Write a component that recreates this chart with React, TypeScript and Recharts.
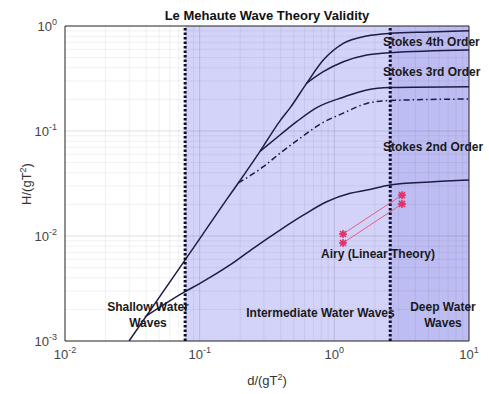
import React from "react";
import {
  LineChart,
  Line,
  XAxis,
  YAxis,
  ReferenceArea,
  ReferenceLine,
  ReferenceDot,
} from "recharts";

// log-log axes, values
const xTicks = [0.01, 0.1, 1, 10];
const yTicks = [0.001, 0.01, 0.1, 1];
const xMinor = [
  0.02, 0.03, 0.04, 0.05, 0.06, 0.07, 0.08, 0.09,
  0.2, 0.3, 0.4, 0.5, 0.6, 0.7, 0.8, 0.9,
  2, 3, 4, 5, 6, 7, 8, 9,
];
const yMinor = [
  0.002, 0.003, 0.004, 0.005, 0.006, 0.007, 0.008, 0.009,
  0.02, 0.03, 0.04, 0.05, 0.06, 0.07, 0.08, 0.09,
  0.2, 0.3, 0.4, 0.5, 0.6, 0.7, 0.8, 0.9,
];

// shallow / intermediate / deep boundaries
const shallowLimit = 0.078;
const deepLimit = 2.6;

// breaking limit (top curve, bounds Stokes 4th order)
const breakingX = [0.0299, 0.0778, 0.1005, 0.1588, 0.1936, 0.2806, 0.395, 0.469, 0.624, 0.828, 1.166, 1.74, 2.59, 5.13, 10];
const breakingY = [0.001, 0.0059, 0.0095, 0.0223, 0.032, 0.064, 0.125, 0.166, 0.286, 0.474, 0.684, 0.803, 0.851, 0.877, 0.902];

// Stokes 4th / 3rd boundary
const stokes4X = [0.624, 0.828, 1.166, 1.74, 2.59, 10];
const stokes4Y = [0.286, 0.367, 0.457, 0.53, 0.557, 0.591];

// Stokes 3rd / 2nd boundary
const stokes3X = [0.2806, 0.395, 0.525, 0.74, 1.166, 1.74, 2.59, 10];
const stokes3Y = [0.064, 0.0916, 0.1227, 0.167, 0.21, 0.246, 0.259, 0.264];

// dash-dot limit
const dashX = [0.1936, 0.297, 0.395, 0.556, 0.782, 1.166, 1.74, 2.59, 10];
const dashY = [0.032, 0.0457, 0.0614, 0.0851, 0.116, 0.148, 0.183, 0.195, 0.2018];

// Stokes 2nd / Airy boundary
const stokes2X = [0.0393, 0.0778, 0.1005, 0.168, 0.25, 0.395, 0.588, 0.877, 1.31, 1.75, 2.59, 5.13, 10];
const stokes2Y = [0.0017, 0.00295, 0.00354, 0.0053, 0.00764, 0.0114, 0.0158, 0.0212, 0.0255, 0.0274, 0.0306, 0.0327, 0.0341];

// measured cases (red)
const caseAX = [1.16, 3.18];
const caseAY = [0.01045, 0.0245];
const caseBX = [1.16, 3.18];
const caseBY = [0.00858, 0.0202];

const zip = (xs: number[], ys: number[]) => xs.map((x, i) => ({ x, y: ys[i] }));

const curves = [
  { name: "breaking", data: zip(breakingX, breakingY), dash: undefined },
  { name: "stokes4", data: zip(stokes4X, stokes4Y), dash: undefined },
  { name: "stokes3", data: zip(stokes3X, stokes3Y), dash: undefined },
  { name: "dash", data: zip(dashX, dashY), dash: "6 3 1.5 3" },
  { name: "stokes2", data: zip(stokes2X, stokes2Y), dash: undefined },
];
const cases = [zip(caseAX, caseAY), zip(caseBX, caseBY)];

const labels = [
  { x: 2.3, y: 0.705, lines: ["Stokes 4th Order"], anchor: "start" },
  { x: 2.3, y: 0.367, lines: ["Stokes 3rd Order"], anchor: "start" },
  { x: 2.3, y: 0.07, lines: ["Stokes 2nd Order"], anchor: "start" },
  { x: 2.11, y: 0.00675, lines: ["Airy (Linear Theory)"], anchor: "middle" },
  { x: 0.789, y: 0.00185, lines: ["Intermediate Water Waves"], anchor: "middle" },
  { x: 6.41, y: 0.00211, lines: ["Deep Water", "Waves"], anchor: "middle" },
  { x: 0.0413, y: 0.00211, lines: ["Shallow Water", "Waves"], anchor: "middle" },
];

const ink = "#1c1c44";
const font = "'Liberation Sans', Arial, sans-serif";

const PowTick = ({ x, y, payload, anchor, dy }: any) => {
  const exp = Math.round(Math.log10(payload.value));
  return (
    <text x={x} y={y + dy} textAnchor={anchor} fill="#444" fontSize={13} fontFamily={font}>
      <tspan>10</tspan>
      <tspan dy={-6} fontSize={9}>
        {exp}
      </tspan>
    </text>
  );
};

const Star = ({ cx, cy }: any) => {
  if (cx == null || cy == null) return null;
  const r = 4;
  return (
    <g stroke="#e3336a" strokeWidth={1.6}>
      <circle cx={cx} cy={cy} r={2.5} fill="#e3336a" stroke="none" />
      <line x1={cx - r} y1={cy} x2={cx + r} y2={cy} />
      <line x1={cx} y1={cy - r} x2={cx} y2={cy + r} />
      <line x1={cx - 3} y1={cy - 3} x2={cx + 3} y2={cy + 3} />
      <line x1={cx - 3} y1={cy + 3} x2={cx + 3} y2={cy - 3} />
    </g>
  );
};

export default function App() {
  return (
    <div style={{ position: "absolute", left: 0, top: 0, width: 489, height: 394, background: "#fff", fontFamily: font }}>
      <div
        style={{
          position: "absolute",
          top: 8,
          left: 65,
          width: 404,
          textAlign: "center",
          fontWeight: "bold",
          fontSize: 13,
          color: "#111",
        }}
      >
        Le Mehaute Wave Theory Validity
      </div>
      <div
        style={{
          position: "absolute",
          left: 26,
          top: 184,
          transform: "translate(-50%, -50%) rotate(-90deg)",
          fontSize: 13,
          color: "#333",
          whiteSpace: "nowrap",
        }}
      >
        H/(gT<sup style={{ fontSize: 9 }}>2</sup>)
      </div>
      <div
        style={{
          position: "absolute",
          left: 267,
          top: 380,
          transform: "translate(-50%, -50%)",
          fontSize: 13,
          color: "#333",
          whiteSpace: "nowrap",
        }}
      >
        d/(gT<sup style={{ fontSize: 9 }}>2</sup>)
      </div>
      <LineChart width={489} height={394} margin={{ top: 26, right: 20, left: 0, bottom: 23 }}>
        <XAxis
          type="number"
          dataKey="x"
          scale="log"
          domain={[0.01, 10]}
          ticks={xTicks}
          allowDataOverflow
          axisLine={false}
          tickLine={false}
          height={30}
          tick={<PowTick anchor="middle" dy={10} />}
        />
        <YAxis
          type="number"
          dataKey="y"
          scale="log"
          domain={[0.001, 1]}
          ticks={yTicks}
          allowDataOverflow
          axisLine={false}
          tickLine={false}
          width={65}
          tick={<PowTick anchor="end" dy={5} />}
        />
        <ReferenceArea x1={shallowLimit} x2={deepLimit} y1={0.001} y2={1} fill="#d3d3fa" fillOpacity={1} stroke="none" />
        <ReferenceArea x1={deepLimit} x2={10} y1={0.001} y2={1} fill="#bdbdf3" fillOpacity={1} stroke="none" />
        {xMinor.map((v) => (
          <ReferenceLine key={"xm" + v} x={v} stroke="#000" strokeOpacity={0.06} />
        ))}
        {yMinor.map((v) => (
          <ReferenceLine key={"ym" + v} y={v} stroke="#000" strokeOpacity={0.06} />
        ))}
        {xTicks.map((v) => (
          <ReferenceLine key={"xM" + v} x={v} stroke="#000" strokeOpacity={0.12} />
        ))}
        {yTicks.map((v) => (
          <ReferenceLine key={"yM" + v} y={v} stroke="#000" strokeOpacity={0.12} />
        ))}
        {curves.map((c) => (
          <Line
            key={c.name}
            data={c.data}
            dataKey="y"
            type="monotone"
            stroke={ink}
            strokeWidth={1.5}
            strokeDasharray={c.dash}
            dot={false}
            isAnimationActive={false}
          />
        ))}
        {cases.map((d, i) => (
          <Line
            key={"case" + i}
            data={d}
            dataKey="y"
            type="linear"
            stroke="#e0607f"
            strokeWidth={1}
            dot={<Star />}
            isAnimationActive={false}
          />
        ))}
        <ReferenceLine x={shallowLimit} stroke="#0d0d33" strokeWidth={3} strokeDasharray="2.5 2" />
        <ReferenceLine x={deepLimit} stroke="#0d0d33" strokeWidth={3} strokeDasharray="2.5 2" />
        {labels.map((l) => (
          <ReferenceDot
            key={l.lines[0]}
            x={l.x}
            y={l.y}
            r={0}
            shape={(p: any) => (
              <text
                x={p.cx}
                y={p.cy + 4}
                textAnchor={l.anchor}
                fontSize={12}
                fontWeight="bold"
                fontFamily={font}
                fill="#1a1a1a"
              >
                {l.lines.map((s, i) => (
                  <tspan key={s} x={p.cx} dy={i === 0 ? 0 : 16}>
                    {s}
                  </tspan>
                ))}
              </text>
            )}
          />
        ))}
        <ReferenceArea x1={0.01} x2={10} y1={0.001} y2={1} fill="none" stroke="#333" strokeWidth={1} />
      </LineChart>
    </div>
  );
}
